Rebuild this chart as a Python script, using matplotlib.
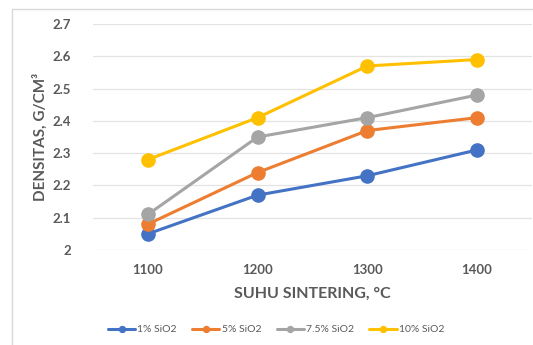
import matplotlib
matplotlib.use('Agg')
import matplotlib.pyplot as plt
from matplotlib.patches import Rectangle

# Densitas vs suhu sintering untuk tiap kadar SiO2
suhu = ['1100', '1200', '1300', '1400']
seri = ['1% SiO2', '5% SiO2', '7.5% SiO2', '10% SiO2']
densitas_1 = [2.05, 2.17, 2.23, 2.31]
densitas_5 = [2.08, 2.24, 2.37, 2.41]
densitas_75 = [2.11, 2.35, 2.41, 2.48]
densitas_10 = [2.28, 2.41, 2.57, 2.59]
warna = ['#4472C4', '#ED7D31', '#A5A5A5', '#FFC000']

plt.rcParams['font.family'] = ['Lato', 'DejaVu Sans']
teks = '#595959'

fig = plt.figure(figsize=(5.33, 3.45), dpi=100)
fig.patches.append(Rectangle((12 / 533, -0.1), 1.2, (345 - 9) / 345 + 0.1,
                             transform=fig.transFigure, fill=False,
                             edgecolor='#D9D9D9', linewidth=1))
ax = fig.add_axes([93 / 533, 95 / 345, 439 / 533, 226 / 345])

x = range(len(suhu))
for data, nama, c in zip([densitas_1, densitas_5, densitas_75, densitas_10], seri, warna):
    ax.plot(x, data, color=c, linewidth=2.2, marker='o', markersize=9.5,
            label=nama, solid_capstyle='round')

ax.set_xlim(-0.5, 3.5)
ax.set_ylim(2.0, 2.7)
ax.set_yticks([2.0, 2.1, 2.2, 2.3, 2.4, 2.5, 2.6, 2.7])
ax.set_yticklabels(['2', '2.1', '2.2', '2.3', '2.4', '2.5', '2.6', '2.7'])
ax.set_xticks(list(x))
ax.set_xticklabels(suhu)
ax.grid(axis='y', color='#E3E3E3', linewidth=0.9)
ax.set_axisbelow(True)
for s in ax.spines.values():
    s.set_visible(False)
ax.tick_params(axis='y', length=0, labelsize=9.5, labelcolor=teks, pad=16)
ax.tick_params(axis='x', length=0, labelsize=9.5, labelcolor=teks, pad=10)
for lbl in ax.get_xticklabels() + ax.get_yticklabels():
    lbl.set_fontweight('bold')

ax.set_xlabel('SUHU SINTERING, °C', fontsize=11.5, fontweight='bold', color=teks, labelpad=8)
ax.set_ylabel('DENSITAS, G/CM³', fontsize=11, fontweight='bold', color=teks, labelpad=3)

leg = ax.legend(loc='upper center', bbox_to_anchor=(0.417, -0.29), ncol=4, frameon=False,
                fontsize=7.5, markerscale=0.45, handlelength=2.6, columnspacing=1.5,
                handletextpad=0.2, labelcolor=teks)

fig.savefig('out.png', dpi=100)
